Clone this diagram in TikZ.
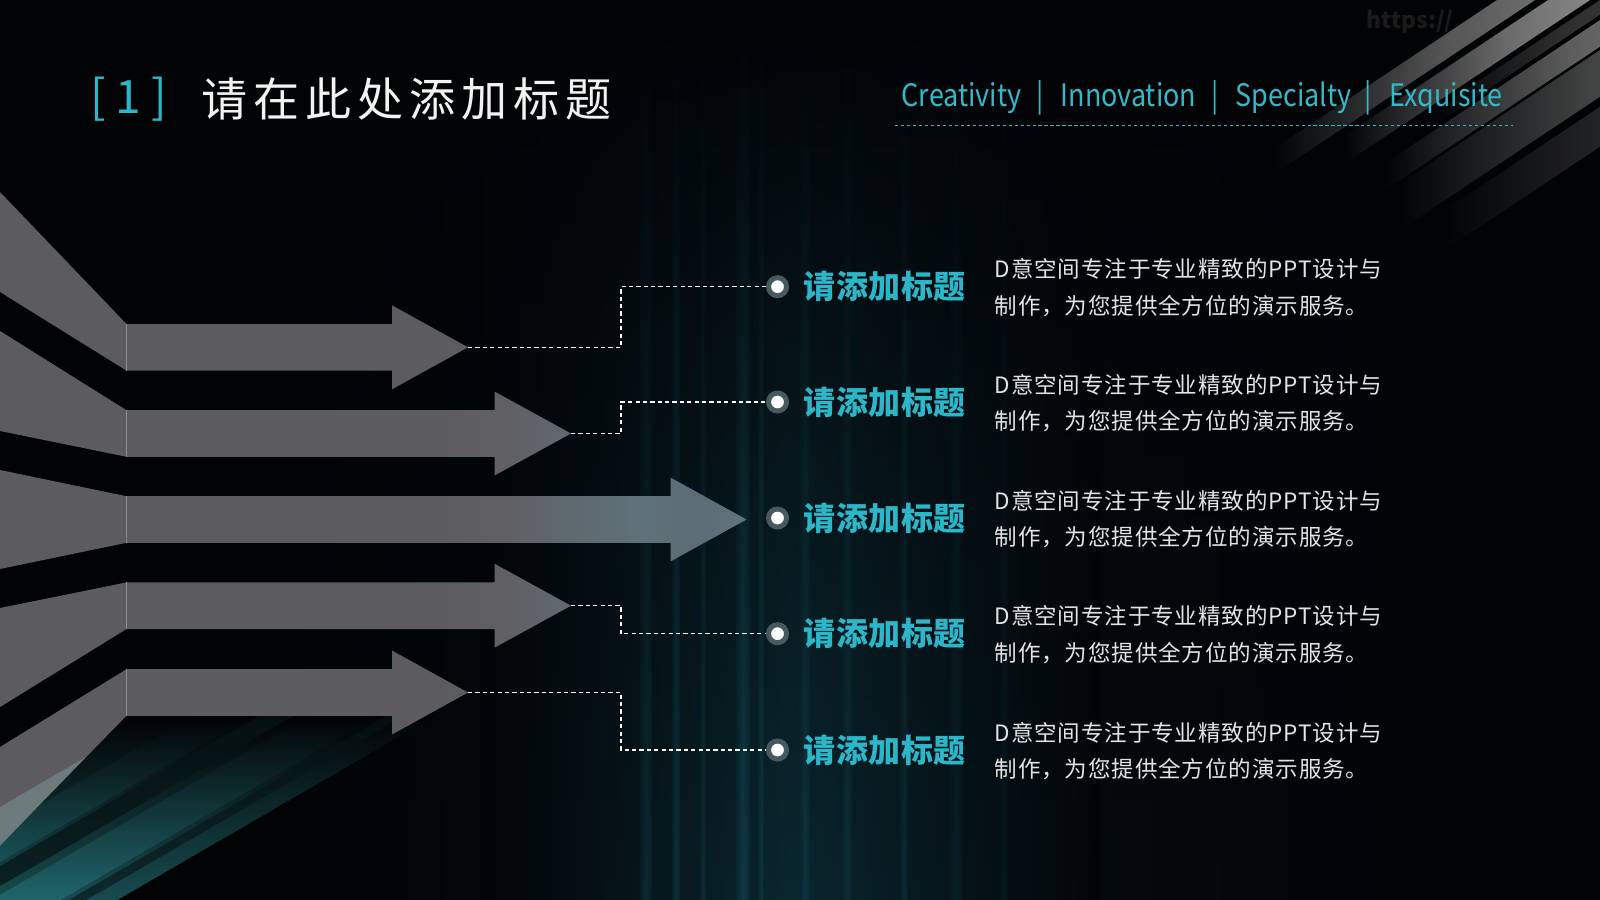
\documentclass[tikz,border=0pt]{standalone}
\usepackage{fontspec}
\setmainfont{Noto Sans CJK SC}
\usetikzlibrary{fadings,calc}

\definecolor{bg}{HTML}{020305}
\definecolor{glow}{HTML}{0C2F39}
\definecolor{glowb}{HTML}{06141A}
\definecolor{streakc}{HTML}{1E5E6B}
\definecolor{hlinec}{HTML}{2A6E78}
\definecolor{teal}{HTML}{2DB5C8}
\definecolor{hteal}{HTML}{35B8C8}
\definecolor{titlec}{HTML}{F2F2F2}
\definecolor{bodyc}{HTML}{E4E4E4}
\definecolor{ringc}{HTML}{465A60}
\definecolor{seamc}{HTML}{8E8E8E}
\definecolor{wmc}{HTML}{1A1A1A}
\definecolor{ag0}{HTML}{5C5C5E}
\definecolor{ag1}{HTML}{605F62}
\definecolor{ag2}{HTML}{5E686E}
\definecolor{ag3}{HTML}{5F7179}
\definecolor{ag4}{HTML}{5D6C76}
\definecolor{ag5}{HTML}{62747E}
\definecolor{blbase}{HTML}{1A5357}
\definecolor{bllight}{HTML}{237075}
\definecolor{bldark}{HTML}{061416}
\definecolor{tri}{HTML}{86A2A4}
\definecolor{tmpc}{HTML}{707070}

\pgfdeclarehorizontalshading{arrowsh}{100bp}{color(0bp)=(ag0); color(25bp)=(ag0); color(54.5bp)=(ag0); color(58.5bp)=(ag1); color(62.5bp)=(ag2); color(67.9bp)=(ag3); color(71.9bp)=(ag4); color(75bp)=(ag5); color(100bp)=(ag5)}
\pgfdeclarehorizontalshading[tmpc]{trsh}{100bp}{color(0bp)=(bg); color(25bp)=(bg); color(36bp)=(bg); color(60bp)=(tmpc!75!bg); color(75bp)=(tmpc); color(100bp)=(tmpc)}

\tikzfading[name=colfade, top color=transparent!100, middle color=transparent!0, bottom color=transparent!25]
\tikzfading[name=hfade, left color=transparent!100, middle color=transparent!0, right color=transparent!100]

\tikzset{
  conn/.style={draw=white, line width=0.4pt, dash pattern=on 1.2pt off 0.9pt},
  dotn/.style={circle, fill=white, draw=ringc, line width=0.05cm, minimum size=0.18cm, inner sep=0pt},
  lbl/.style={anchor=west, inner sep=0pt, text=teal, font=\fontsize{9.1pt}{11pt}\selectfont\bfseries\addfontfeatures{LetterSpace=1.5}},
  bodytxt/.style={anchor=west, inner sep=0pt, align=left, text=bodyc, font=\fontsize{6.4pt}{10.44pt}\selectfont\addfontfeatures{LetterSpace=4}},
  hdr/.style={anchor=base west, inner sep=0pt, text=hteal, font=\fontsize{8.8pt}{10pt}\selectfont\addfontfeatures{FakeStretch=0.87}},
  seam/.style={draw=seamc, line width=0.3pt},
}

\begin{document}
\begin{tikzpicture}[x=0.01cm, y=-0.01cm]
\useasboundingbox (0,0) rectangle (1600,900);
\fill[bg] (0,0) rectangle (1600,900);

% background glow column
\shade[left color=bg, right color=bg, middle color=glowb, path fading=colfade] (250,0) rectangle (1450,900);
\shade[left color=bg, right color=bg, middle color=glow, path fading=colfade] (480,0) rectangle (1100,900);
\foreach \x/\w/\o in {640/12/0.35, 672/8/0.45, 700/6/0.3, 736/14/0.55, 758/6/0.4, 800/10/0.35, 842/10/0.3, 900/8/0.3, 950/12/0.2, 1000/8/0.15}
  \shade[left color=glow, right color=glow, middle color=streakc, opacity=\o, path fading=colfade] (\x,0) rectangle ++(\w,900);
\fill[hlinec, opacity=0.7, path fading=hfade] (250,727) rectangle (1350,732);

% bottom-left teal streaks (slope 0.58, between y=716 and y=920)
\begin{scope}
  \clip (0,845) -- (126.5,715.8) -- (800,715.8) -- (800,900) -- (0,900) -- cycle;
  \foreach \ca/\cb/\col in {790/968/blbase, 828/862/bllight, 895/935/bllight}
    \shade[top color=bg, bottom color=\col] ({(\ca-716)/0.58},716) -- ({(\cb-716)/0.58},716) -- ({(\cb-920)/0.58},920) -- ({(\ca-920)/0.58},920) -- cycle;
  \foreach \ca/\cb/\o in {866/886/0.75, 940/950/0.6}
    \fill[bldark, opacity=\o] ({(\ca-716)/0.58},716) -- ({(\cb-716)/0.58},716) -- ({(\cb-920)/0.58},920) -- ({(\ca-920)/0.58},920) -- cycle;
\end{scope}

% watermark
\node[anchor=base west, inner sep=0pt, text=wmc, font=\fontsize{6.5pt}{8pt}\selectfont\bfseries] (wm) at (1366,28) {https://};

% top-right grey streaks (slope 0.667), fading into black towards lower left
\foreach \a/\b/\ye/\c in {1497/1535/200/707070, 1548/1590/185/8C8C8C, 1600/1622/150/3A3A3A, 1630/1670/220/7A7A7A, 1675/1745/250/656565, 1760/1820/285/474747}{
  \definecolor{tmpc}{HTML}{\c}
  \shade[shading=trsh] ({\a+15},-10) -- ({\b+15},-10) -- ({\b-1.5*\ye},\ye) -- ({\a-1.5*\ye},\ye) -- cycle;
}

% arrows
\shade[shading=arrowsh]
  (0,192) -- (126.5,324.0) -- (392,324.0) -- (392,305.3) -- (468,347.3) -- (392,389.3) -- (392,370.6) -- (126.5,370.6) -- (0,292) -- cycle
  (0,331) -- (126.5,410.2) -- (494.5,410.2) -- (494.5,391.5) -- (571,433.5) -- (494.5,475.5) -- (494.5,456.8) -- (126.5,456.8) -- (0,431) -- cycle
  (0,470) -- (126.5,496.2) -- (670.5,496.2) -- (670.5,477.5) -- (746.5,519.5) -- (670.5,561.5) -- (670.5,542.8) -- (126.5,542.8) -- (0,569) -- cycle
  (0,608) -- (126.5,582.4) -- (494.5,582.4) -- (494.5,563.7) -- (571,605.7) -- (494.5,647.7) -- (494.5,629.0) -- (126.5,629.0) -- (0,707) -- cycle
  (0,747) -- (126.5,669.2) -- (392,669.2) -- (392,650.5) -- (468,692.5) -- (392,734.5) -- (392,715.8) -- (126.5,715.8) -- (0,845) -- cycle;
\fill[tri, opacity=0.45] (0,807) -- (86,757) -- (0,846) -- cycle;
\draw[seam] (126.5,324.0) -- (126.5,370.6);
\draw[seam] (126.5,410.2) -- (126.5,456.8);
\draw[seam] (126.5,496.2) -- (126.5,542.8);
\draw[seam] (126.5,582.4) -- (126.5,629.0);
\draw[seam] (126.5,669.2) -- (126.5,715.8);

\coordinate (t1) at (468,347.3);
\coordinate (t2) at (571,433.5);
\coordinate (t4) at (571,605.7);
\coordinate (t5) at (468,692.5);
\coordinate (vx) at (621,0);

% dots
\node[dotn] (d1) at (777.5,286.7) {};
\node[dotn] (d2) at (777.5,402) {};
\node[dotn] (d3) at (777.5,518) {};
\node[dotn] (d4) at (777.5,633.7) {};
\node[dotn] (d5) at (777.5,750) {};

% connectors
\draw[conn] (t1) -| (vx |- d1) -- (d1);
\draw[conn] (t2) -| (vx |- d2) -- (d2);
\draw[conn] (t4) -| (vx |- d4) -- (d4);
\draw[conn] (t5) -| (vx |- d5) -- (d5);

% labels and texts
\foreach \i/\yy in {1/286.7, 2/402, 3/518, 4/633.7, 5/750}{
  \node[lbl] (l\i) at (803,\yy) {请添加标题};
  \node[bodytxt] (b\i) at (994,{\yy+1}) {D意空间专注于专业精致的PPT设计与\\制作，为您提供全方位的演示服务。};
}

% title
\node[anchor=center, inner sep=0pt, text=teal, font=\fontsize{13.1pt}{15pt}\selectfont] (br1) at (98,99) {[};
\node[anchor=center, inner sep=0pt, text=teal, font=\fontsize{13.1pt}{15pt}\selectfont] (num) at (128,97) {1};
\node[anchor=center, inner sep=0pt, text=teal, font=\fontsize{13.1pt}{15pt}\selectfont] (br2) at (159,99) {]};
\node[anchor=west, inner sep=0pt, text=titlec, font=\fontsize{13.1pt}{15pt}\selectfont\addfontfeatures{LetterSpace=12.8}] (title) at (201,99) {请在此处添加标题};

% header
\node[hdr] (h1) at (901,106) {Creativity};
\node[hdr] (s1) at (1036,106) {|};
\node[hdr] (h2) at (1060,106) {Innovation};
\node[hdr] (s2) at (1211,106) {|};
\node[hdr] (h3) at (1235,106) {Specialty};
\node[hdr] (s3) at (1364,106) {|};
\node[hdr] (h4) at (1389,106) {Exquisite};
\coordinate (hl0) at (895,125.5);
\coordinate (hl1) at (1513,125.5);
\draw[draw=hteal, line width=0.3pt, dash pattern=on 0.9pt off 0.8pt] (hl0) -- (hl1);
\end{tikzpicture}
\end{document}
